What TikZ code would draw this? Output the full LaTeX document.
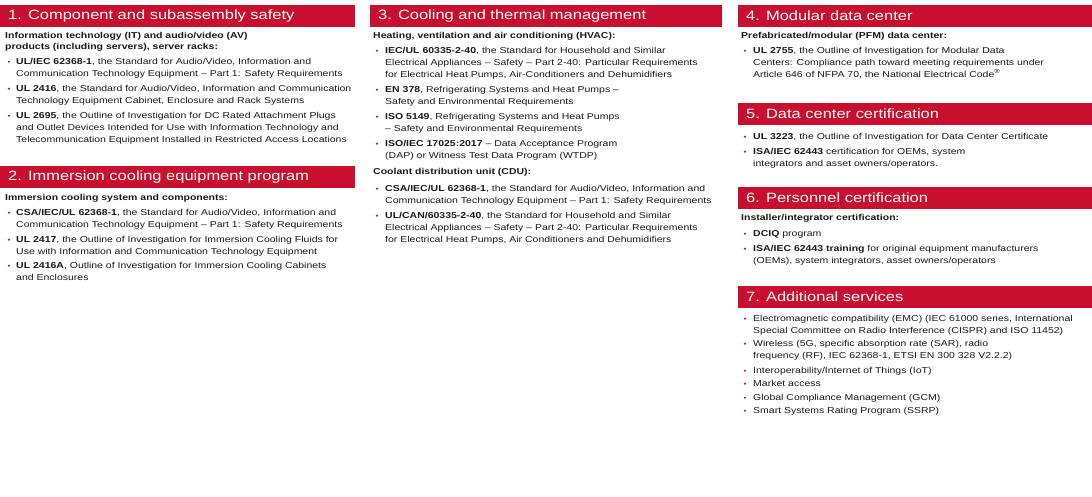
\documentclass[tikz,border=0pt]{standalone}
\usepackage{fontspec}
\setmainfont{Liberation Sans}[FakeStretch=1.22]
\definecolor{ulred}{HTML}{C8102E}
\definecolor{txt}{HTML}{1A1A1A}
\begin{document}
\begin{tikzpicture}[x=1pt,y=-1pt,
  hdr/.style={fill=ulred,minimum height=22pt,inner sep=0pt,anchor=north west},
  hdrtext/.style={anchor=west,text=white,font=\fontsize{13.5}{14}\selectfont,inner sep=0pt},
  body/.style={anchor=north west,inner sep=0pt,align=left,text=txt,font=\fontsize{8.6}{12}\selectfont},
  sub/.style={body,font=\fontsize{8.6}{11.5}\selectfont\bfseries},
  bul/.style={anchor=center,inner sep=0pt,text=ulred,font=\fontsize{7}{7}\selectfont}]
\useasboundingbox (0,0) rectangle (1092,496);
% headers
\node[hdr,minimum width=355pt] (h1) at (0,5) {};
\node[hdrtext] (h1t) at (8,16) {1. Component and subassembly safety};
\node[hdr,minimum width=355pt] (h2) at (0,166) {};
\node[hdrtext] (h2t) at (8,177.5) {2. Immersion cooling equipment program};
\node[hdr,minimum width=352pt] (h3) at (370,5) {};
\node[hdrtext] (h3t) at (378,16) {3. Cooling and thermal management};
\node[hdr,minimum width=354pt] (h4) at (738,5) {};
\node[hdrtext] (h4t) at (746,16) {4. Modular data center};
\node[hdr,minimum width=354pt] (h5) at (738,103) {};
\node[hdrtext] (h5t) at (746,114) {5. Data center certification};
\node[hdr,minimum width=354pt] (h6) at (738,187) {};
\node[hdrtext] (h6t) at (746,198) {6. Personnel certification};
\node[hdr,minimum width=354pt] (h7) at (738,286) {};
\node[hdrtext] (h7t) at (746,297) {7. Additional services};
% column 1
\node[sub] (s1) at (5,32) {Information technology (IT) and audio/video (AV)\\products (including servers), server racks:};
\node[bul] (b11) at (9,63) {•};
\node[body] (i11) at (16,58) {\textbf{UL/IEC 62368-1}, the Standard for Audio/Video, Information and\\Communication Technology Equipment – Part 1: Safety Requirements};
\node[bul] (b12) at (9,90) {•};
\node[body] (i12) at (16,85) {\textbf{UL 2416}, the Standard for Audio/Video, Information and Communication\\Technology Equipment Cabinet, Enclosure and Rack Systems};
\node[bul] (b13) at (9,117) {•};
\node[body] (i13) at (16,112) {\textbf{UL 2695}, the Outline of Investigation for DC Rated Attachment Plugs\\and Outlet Devices Intended for Use with Information Technology and\\Telecommunication Equipment Installed in Restricted Access Locations};
\node[sub] (s2) at (5,194) {Immersion cooling system and components:};
\node[bul] (b21) at (9,214) {•};
\node[body] (i21) at (16,209) {\textbf{CSA/IEC/UL 62368-1}, the Standard for Audio/Video, Information and\\Communication Technology Equipment – Part 1: Safety Requirements};
\node[bul] (b22) at (9,241) {•};
\node[body] (i22) at (16,236) {\textbf{UL 2417}, the Outline of Investigation for Immersion Cooling Fluids for\\Use with Information and Communication Technology Equipment};
\node[bul] (b23) at (9,267) {•};
\node[body] (i23) at (16,262) {\textbf{UL 2416A}, Outline of Investigation for Immersion Cooling Cabinets\\and Enclosures};
% column 2
\node[sub] (s3) at (373,32) {Heating, ventilation and air conditioning (HVAC):};
\node[bul] (b31) at (377,52) {•};
\node[body] (i31) at (385,47) {\textbf{IEC/UL 60335-2-40}, the Standard for Household and Similar\\Electrical Appliances – Safety – Part 2-40: Particular Requirements\\for Electrical Heat Pumps, Air-Conditioners and Dehumidifiers};
\node[bul] (b32) at (377,91) {•};
\node[body] (i32) at (385,86) {\textbf{EN 378}, Refrigerating Systems and Heat Pumps –\\Safety and Environmental Requirements};
\node[bul] (b33) at (377,118) {•};
\node[body] (i33) at (385,113) {\textbf{ISO 5149}, Refrigerating Systems and Heat Pumps\\– Safety and Environmental Requirements};
\node[bul] (b34) at (377,145) {•};
\node[body] (i34) at (385,140) {\textbf{ISO/IEC 17025:2017} – Data Acceptance Program\\(DAP) or Witness Test Data Program (WTDP)};
\node[sub] (s4) at (373,168) {Coolant distribution unit (CDU):};
\node[bul] (b41) at (377,190) {•};
\node[body] (i41) at (385,185) {\textbf{CSA/IEC/UL 62368-1}, the Standard for Audio/Video, Information and\\Communication Technology Equipment – Part 1: Safety Requirements};
\node[bul] (b42) at (377,217) {•};
\node[body] (i42) at (385,212) {\textbf{UL/CAN/60335-2-40}, the Standard for Household and Similar\\Electrical Appliances – Safety – Part 2-40: Particular Requirements\\for Electrical Heat Pumps, Air Conditioners and Dehumidifiers};
% column 3
\node[sub] (s5) at (741,32) {Prefabricated/modular (PFM) data center:};
\node[bul] (b51) at (745,52) {•};
\node[body] (i51) at (753,47) {\textbf{UL 2755}, the Outline of Investigation for Modular Data\\Centers: Compliance path toward meeting requirements under\\Article 646 of NFPA 70, the National Electrical Code\textsuperscript{®}};
\node[bul] (b61) at (745,138) {•};
\node[body] (i61) at (753,133) {\textbf{UL 3223}, the Outline of Investigation for Data Center Certificate};
\node[bul] (b62) at (745,153) {•};
\node[body] (i62) at (753,148) {\textbf{ISA/IEC 62443} certification for OEMs, system\\integrators and asset owners/operators.};
\node[sub] (s7) at (741,214) {Installer/integrator certification:};
\node[bul] (b71) at (745,235) {•};
\node[body] (i71) at (753,230) {\textbf{DCIQ} program};
\node[bul] (b72) at (745,250) {•};
\node[body] (i72) at (753,245) {\textbf{ISA/IEC 62443 training} for original equipment manufacturers\\(OEMs), system integrators, asset owners/operators};
\node[bul] (b81) at (745,320) {•};
\node[body] (i81) at (753,315) {Electromagnetic compatibility (EMC) (IEC 61000 series, International\\Special Committee on Radio Interference (CISPR) and ISO 11452)};
\node[bul] (b82) at (745,345) {•};
\node[body] (i82) at (753,340) {Wireless (5G, specific absorption rate (SAR), radio\\frequency (RF), IEC 62368-1, ETSI EN 300 328 V2.2.2)};
\node[bul] (b83) at (745,372) {•};
\node[body] (i83) at (753,367) {Interoperability/Internet of Things (IoT)};
\node[bul] (b84) at (745,385) {•};
\node[body] (i84) at (753,380) {Market access};
\node[bul] (b85) at (745,399) {•};
\node[body] (i85) at (753,394) {Global Compliance Management (GCM)};
\node[bul] (b86) at (745,412) {•};
\node[body] (i86) at (753,407) {Smart Systems Rating Program (SSRP)};
\end{tikzpicture}
\end{document}
